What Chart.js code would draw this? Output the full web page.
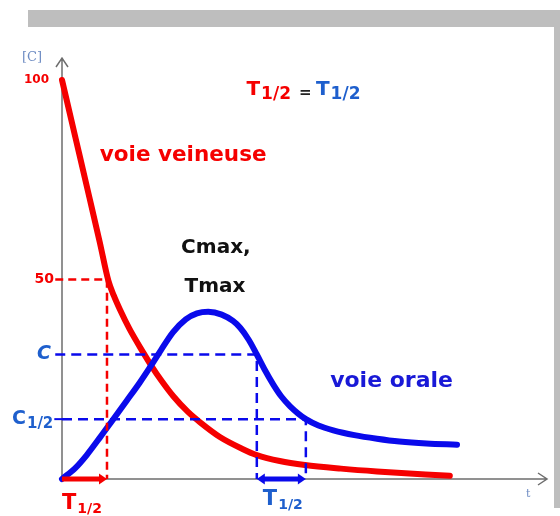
<!DOCTYPE html>
<html>
<head>
<meta charset="utf-8">
<script src="https://cdn.jsdelivr.net/npm/chart.js@4"></script>
<style>
  body { margin: 0; background: #fff; }
  #wrap { width: 560px; height: 516px; }
</style>
</head>
<body>
<div id="wrap"><canvas id="myChart" width="560" height="516"></canvas></div>
<script>
// time in half-lives, concentration in % of the IV dose
const veinT = [0, 0.3, 0.61, 0.84, 1.03, 1.15, 1.29, 1.5, 1.81, 1.99, 2.2, 2.47, 2.8, 3.07, 3.5, 4.0, 4.33, 4.84, 5.4, 6.2, 7, 8.62];
const veinC = [100, 85.5, 70.5, 59.3, 49.7, 46, 42.4, 37.6, 31.6, 28.3, 24.8, 20.8, 16.8, 14.2, 10.6, 7.6, 6, 4.5, 3.5, 2.6, 1.9, 0.8];

const oralT = [0, 0.3, 0.55, 0.85, 1.14, 1.45, 1.73, 1.99, 2.2, 2.47, 2.75, 3.0, 3.25, 3.55, 3.8, 3.96, 4.15, 4.33,
  4.5, 4.7, 4.88, 5.07, 5.25, 5.42, 5.7, 6.03, 6.5, 7, 7.5, 8.1, 8.78];
const oralC = [0, 2.8, 6, 10.5, 15, 19.8, 24.2, 28.6, 32.3, 36.8, 40, 41.5, 41.9, 41.2, 39.6, 37.9, 34.9, 31.2,
  27.5, 23.6, 20.6, 18.2, 16.4, 15, 13.4, 12.2, 11, 10.1, 9.4, 8.9, 8.6];

// half-life markers
const halfLife = 1;
const cValue = 31.2;
const cHalf = 15;
const tAtC = 4.33;
const tAtCHalf = 5.42;

const yTickValues = [100, 50, cValue, cHalf];
const yTickLabels = ["100", "50", "C", "C1/2"];

const toPoints = (xs, ys) => xs.map((x, i) => ({ x: x, y: ys[i] }));

const RED = "rgb(245,0,0)";
const BLUE = "rgb(10,10,235)";
const LABEL_BLUE = "rgb(30,95,205)";
const comic = "'Comic Sans MS', 'DejaVu Sans', sans-serif";

function arrowHead(ctx, x, y, dir, size, color) {
  ctx.save();
  ctx.fillStyle = color;
  ctx.beginPath();
  ctx.moveTo(x, y);
  ctx.lineTo(x - dir * size, y - size * 0.7);
  ctx.lineTo(x - dir * size, y + size * 0.7);
  ctx.closePath();
  ctx.fill();
  ctx.restore();
}

// text with a subscript, returns end x
function drawSub(ctx, x, y, main, sub, color, size, subSize) {
  ctx.fillStyle = color;
  ctx.font = "bold " + size + "px " + comic;
  ctx.textBaseline = "middle";
  ctx.textAlign = "left";
  ctx.fillText(main, x, y);
  let w = ctx.measureText(main).width;
  ctx.font = "bold " + subSize + "px " + comic;
  ctx.fillText(sub, x + w + 1, y + size * 0.25);
  return x + w + 1 + ctx.measureText(sub).width;
}

const framePlugin = {
  id: "frame",
  beforeDraw(chart) {
    const ctx = chart.ctx;
    ctx.save();
    ctx.fillStyle = "#fff";
    ctx.fillRect(0, 0, chart.width, chart.height);
    ctx.fillStyle = "rgb(190,190,190)";
    ctx.fillRect(28, 10, 532, 17);
    ctx.fillRect(554, 27, 6, 481);
    ctx.restore();
  },
};

const axesPlugin = {
  id: "axesDraw",
  beforeDatasetsDraw(chart) {
    const ctx = chart.ctx;
    const a = chart.chartArea;
    ctx.save();
    ctx.strokeStyle = "#6e6e6e";
    ctx.lineWidth = 1.5;
    ctx.beginPath();
    ctx.moveTo(a.left, a.bottom);
    ctx.lineTo(a.left, a.top);
    ctx.moveTo(a.left - 6, a.top + 9);
    ctx.lineTo(a.left, a.top);
    ctx.lineTo(a.left + 6, a.top + 9);
    ctx.moveTo(a.left, a.bottom);
    ctx.lineTo(a.right, a.bottom);
    ctx.moveTo(a.right - 9, a.bottom - 6);
    ctx.lineTo(a.right, a.bottom);
    ctx.lineTo(a.right - 9, a.bottom + 6);
    ctx.stroke();
    ctx.restore();
  },
  afterDraw(chart) {
    const ctx = chart.ctx;
    const xs = chart.scales.x;
    const ys = chart.scales.y;
    const a = chart.chartArea;
    ctx.save();

    // thick half-life bars on the time axis
    const x0 = xs.getPixelForValue(0);
    const x1 = xs.getPixelForValue(halfLife);
    ctx.lineWidth = 5;
    ctx.strokeStyle = RED;
    ctx.beginPath();
    ctx.moveTo(x0, a.bottom);
    ctx.lineTo(x1 - 5, a.bottom);
    ctx.stroke();
    arrowHead(ctx, x1, a.bottom, 1, 8, RED);

    const b0 = xs.getPixelForValue(tAtC);
    const b1 = xs.getPixelForValue(tAtCHalf);
    ctx.strokeStyle = BLUE;
    ctx.beginPath();
    ctx.moveTo(b0 + 5, a.bottom);
    ctx.lineTo(b1 - 5, a.bottom);
    ctx.stroke();
    arrowHead(ctx, b1, a.bottom, 1, 8, BLUE);
    arrowHead(ctx, b0, a.bottom, -1, 8, BLUE);

    // axis names
    ctx.font = "13px 'DejaVu Serif', serif";
    ctx.fillStyle = "rgb(110,140,195)";
    ctx.textAlign = "left";
    ctx.textBaseline = "middle";
    ctx.fillText("[C]", 22, 58);
    ctx.font = "11px 'DejaVu Serif', serif";
    ctx.fillText("t", 526, 494);

    // y labels
    ctx.textAlign = "right";
    ctx.font = "bold 12px " + comic;
    ctx.fillStyle = RED;
    ctx.fillText(yTickLabels[0], 49, ys.getPixelForValue(yTickValues[0]));
    ctx.font = "bold 14px " + comic;
    ctx.fillText(yTickLabels[1], 54, ys.getPixelForValue(yTickValues[1]));

    ctx.fillStyle = LABEL_BLUE;
    ctx.font = "italic bold 19px " + comic;
    ctx.fillText(yTickLabels[2], 51, ys.getPixelForValue(yTickValues[2]));
    const yc = ys.getPixelForValue(yTickValues[3]);
    const end = drawSub(ctx, 12, yc, "C", "1/2", LABEL_BLUE, 19, 15);
    ctx.strokeStyle = BLUE;
    ctx.lineWidth = 2;
    ctx.beginPath();
    ctx.moveTo(end + 1, yc);
    ctx.lineTo(a.left, yc);
    ctx.stroke();

    // T1/2 under the bars
    drawSub(ctx, x0, 504, "T", "1/2", RED, 21, 14);
    drawSub(ctx, b0 + 6, 500, "T", "1/2", LABEL_BLUE, 21, 14);

    // T1/2 = T1/2
    const yt = ys.getPixelForValue(97.5);
    let e = drawSub(ctx, xs.getPixelForValue(4.1), yt, "T", "1/2", RED, 20, 17);
    ctx.fillStyle = "#222";
    ctx.font = "bold 15px " + comic;
    ctx.textAlign = "left";
    ctx.fillText("=", e + 8, yt + 3);
    drawSub(ctx, e + 25, yt, "T", "1/2", LABEL_BLUE, 20, 17);

    // curve names
    ctx.textAlign = "left";
    ctx.textBaseline = "middle";
    ctx.font = "bold 21.5px " + comic;
    ctx.fillStyle = RED;
    ctx.fillText("voie veineuse", xs.getPixelForValue(0.84), ys.getPixelForValue(81));
    ctx.font = "bold 22px " + comic;
    ctx.fillStyle = "rgb(25,25,215)";
    ctx.fillText("voie orale", xs.getPixelForValue(5.96), ys.getPixelForValue(24.6));

    ctx.textAlign = "center";
    ctx.font = "bold 20px " + comic;
    ctx.fillStyle = "#111";
    ctx.fillText("Cmax,", xs.getPixelForValue(3.42), ys.getPixelForValue(57.9));
    ctx.fillText("Tmax", xs.getPixelForValue(3.4), ys.getPixelForValue(48.1));
    ctx.restore();
  },
};

const ctx = document.getElementById("myChart");
const myChart = new Chart(ctx, {
  type: "scatter",
  data: {
    datasets: [
      {
        label: "50 %",
        data: [{ x: -0.15, y: 50 }, { x: halfLife, y: 50 }, { x: halfLife, y: 0 }],
        showLine: true,
        borderColor: RED,
        borderWidth: 2.5,
        borderDash: [8, 5],
        pointRadius: 0,
        tension: 0,
      },
      {
        label: "C",
        data: [{ x: -0.15, y: cValue }, { x: tAtC, y: cValue }, { x: tAtC, y: 0 }],
        showLine: true,
        borderColor: BLUE,
        borderWidth: 2.5,
        borderDash: [10, 6],
        pointRadius: 0,
        tension: 0,
      },
      {
        label: "C1/2",
        data: [{ x: 0, y: cHalf }, { x: tAtCHalf, y: cHalf }, { x: tAtCHalf, y: 0 }],
        showLine: true,
        borderColor: BLUE,
        borderWidth: 2.5,
        borderDash: [10, 6],
        pointRadius: 0,
        tension: 0,
      },
      {
        label: "voie orale",
        data: toPoints(oralT, oralC),
        showLine: true,
        borderColor: BLUE,
        borderWidth: 6,
        borderCapStyle: "round",
        borderJoinStyle: "round",
        pointRadius: 0,
        cubicInterpolationMode: "monotone",
      },
      {
        label: "voie veineuse",
        data: toPoints(veinT, veinC),
        showLine: true,
        borderColor: RED,
        borderWidth: 6,
        borderCapStyle: "round",
        borderJoinStyle: "round",
        pointRadius: 0,
        cubicInterpolationMode: "monotone",
      },
    ],
  },
  options: {
    responsive: false,
    animation: false,
    clip: false,
    layout: { padding: { left: 62, top: 58, right: 13, bottom: 37 } },
    plugins: { legend: { display: false }, tooltip: { enabled: false } },
    scales: {
      x: { type: "linear", min: 0, max: 10.78, display: false },
      y: { type: "linear", min: 0, max: 105.5, display: false },
    },
  },
  plugins: [framePlugin, axesPlugin],
});
</script>
</body>
</html>
